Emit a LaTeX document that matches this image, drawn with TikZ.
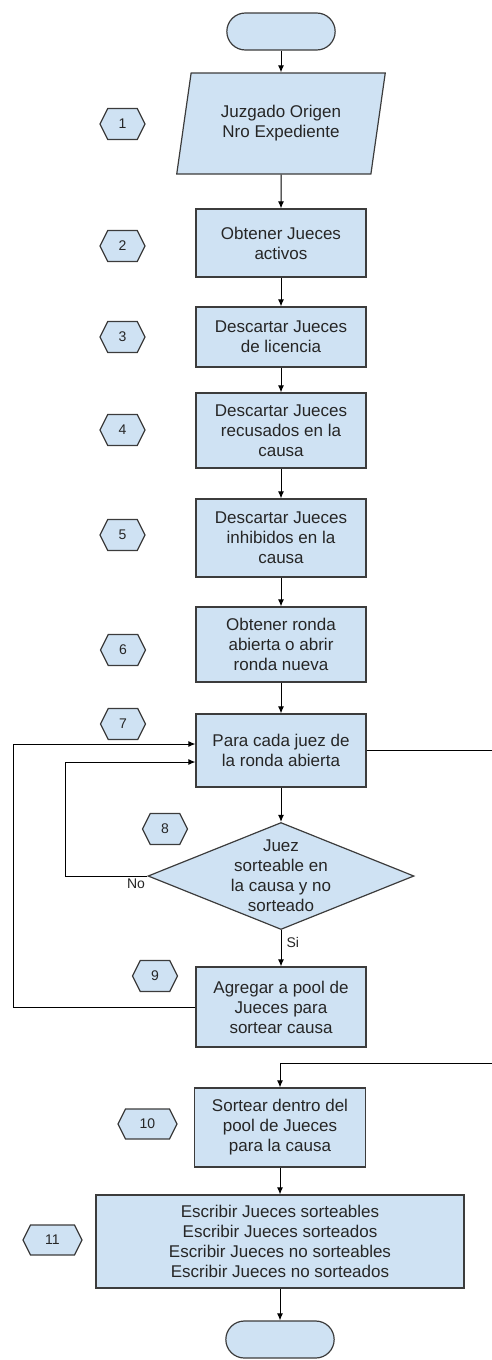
\documentclass[tikz,border=0pt]{standalone}
\usepackage{fontspec}
\setmainfont{Liberation Sans}
\usetikzlibrary{arrows.meta,shapes.geometric,shapes.misc,shapes.symbols}
\definecolor{boxfill}{RGB}{207,226,243}
\definecolor{boxline}{RGB}{60,60,60}

\begin{document}
\begin{tikzpicture}[x=1pt,y=-1pt,>={Latex[length=7pt,width=6pt]},
    every node/.style={font=\fontsize{17}{20}\selectfont,text=black!85},
    blk/.style={draw=boxline,fill=boxfill,line width=1.2pt},
    proc/.style={blk,rectangle,minimum width=170pt,align=center,inner sep=0pt},
    term/.style={blk,rounded rectangle,minimum width=115pt,minimum height=37pt},
    io/.style={blk,trapezium,trapezium left angle=76.6,trapezium right angle=103.4,
      trapezium stretches=true,minimum width=209pt,minimum height=101pt,align=center},
    dec/.style={blk,diamond,minimum width=266pt,minimum height=107pt,inner sep=-25pt,align=center},
    num/.style={blk,signal,signal to=east and west,signal pointer angle=127,
      minimum width=45pt,minimum height=31pt,inner sep=0pt,font=\fontsize{14}{16}\selectfont},
    link/.style={->,line width=1pt}]
    \useasboundingbox (0,0) rectangle (492,1360);

    \node[term] (a) at (281,31.5) {};
    \node[io] (b) at (281,123.5) {Juzgado Origen\\Nro Expediente};
    \node[proc,minimum height=68pt] (c) at (281,243) {Obtener Jueces\\activos};
    \node[proc,minimum height=60pt] (d) at (281,337) {Descartar Jueces\\de licencia};
    \node[proc,minimum height=75pt] (e) at (281,430.5) {Descartar Jueces\\recusados en la\\causa};
    \node[proc,minimum height=78pt] (f) at (281,538) {Descartar Jueces\\inhibidos en la\\causa};
    \node[proc,minimum height=75pt] (g) at (281,644.5) {Obtener ronda\\abierta o abrir\\ronda nueva};
    \node[proc,minimum height=73pt] (h) at (281,750.5) {Para cada juez de\\la ronda abierta};
    \node[dec] (i) at (281,876) {Juez\\sorteable en\\la causa y no\\sorteado};
    \node[proc,minimum height=80pt] (j) at (281,1007) {Agregar a pool de\\Jueces para\\sortear causa};
    \node[proc,minimum width=171pt,minimum height=79pt] (k) at (280,1127.5) {Sortear dentro del\\pool de Jueces\\para la causa};
    \node[proc,minimum width=368pt,minimum height=93pt] (l) at (280,1241.5)
      {Escribir Jueces sorteables\\Escribir Jueces sorteados\\Escribir Jueces no sorteables\\Escribir Jueces no sorteados};
    \node[term] (m) at (280,1339.5) {};

    \node[num] (n1) at (122.5,124) {1};
    \node[num] (n2) at (122.5,246) {2};
    \node[num] (n3) at (122.5,337) {3};
    \node[num] (n4) at (122.5,430) {4};
    \node[num] (n5) at (122.5,535) {5};
    \node[num] (n6) at (123,650) {6};
    \node[num] (n7) at (123,724) {7};
    \node[num] (n8) at (165,829) {8};
    \node[num] (n9) at (155,976) {9};
    \node[num,minimum width=59pt,minimum height=30pt] (n10) at (147.5,1124) {10};
    \node[num,minimum width=59pt,minimum height=30pt] (n11) at (52.5,1240) {11};

    \coordinate (p) at (65,0);
    \coordinate (q) at (13,0);
    \coordinate (r1) at (492,750.5);
    \coordinate (r2) at (492,1063);

    \draw[link] (a) -- (b);
    \draw[link] (b) -- (c);
    \draw[link] (c) -- (d);
    \draw[link] (d) -- (e);
    \draw[link] (e) -- (f);
    \draw[link] (f) -- (g);
    \draw[link] (g) -- (h);
    \draw[link] (h) -- (i);
    \draw[link] (i) -- node[pos=0.35,right,inner sep=5pt,font=\fontsize{14}{16}\selectfont] {Si} (j);
    \draw[link] (i.west) node[below left,inner sep=2pt,font=\fontsize{14}{16}\selectfont] {No}
      -- (i.west -| p) |- ([yshift=-11.5pt]h.west);
    \draw[link] (j.west) -- (j.west -| q) |- ([yshift=6.5pt]h.west);
    \draw[line width=1pt] (h.east) -- (r1);
    \draw[link] (r2) -| (k);
    \draw[link] (k) -- (l);
    \draw[link] (l) -- (m);
  \end{tikzpicture}
\end{document}
